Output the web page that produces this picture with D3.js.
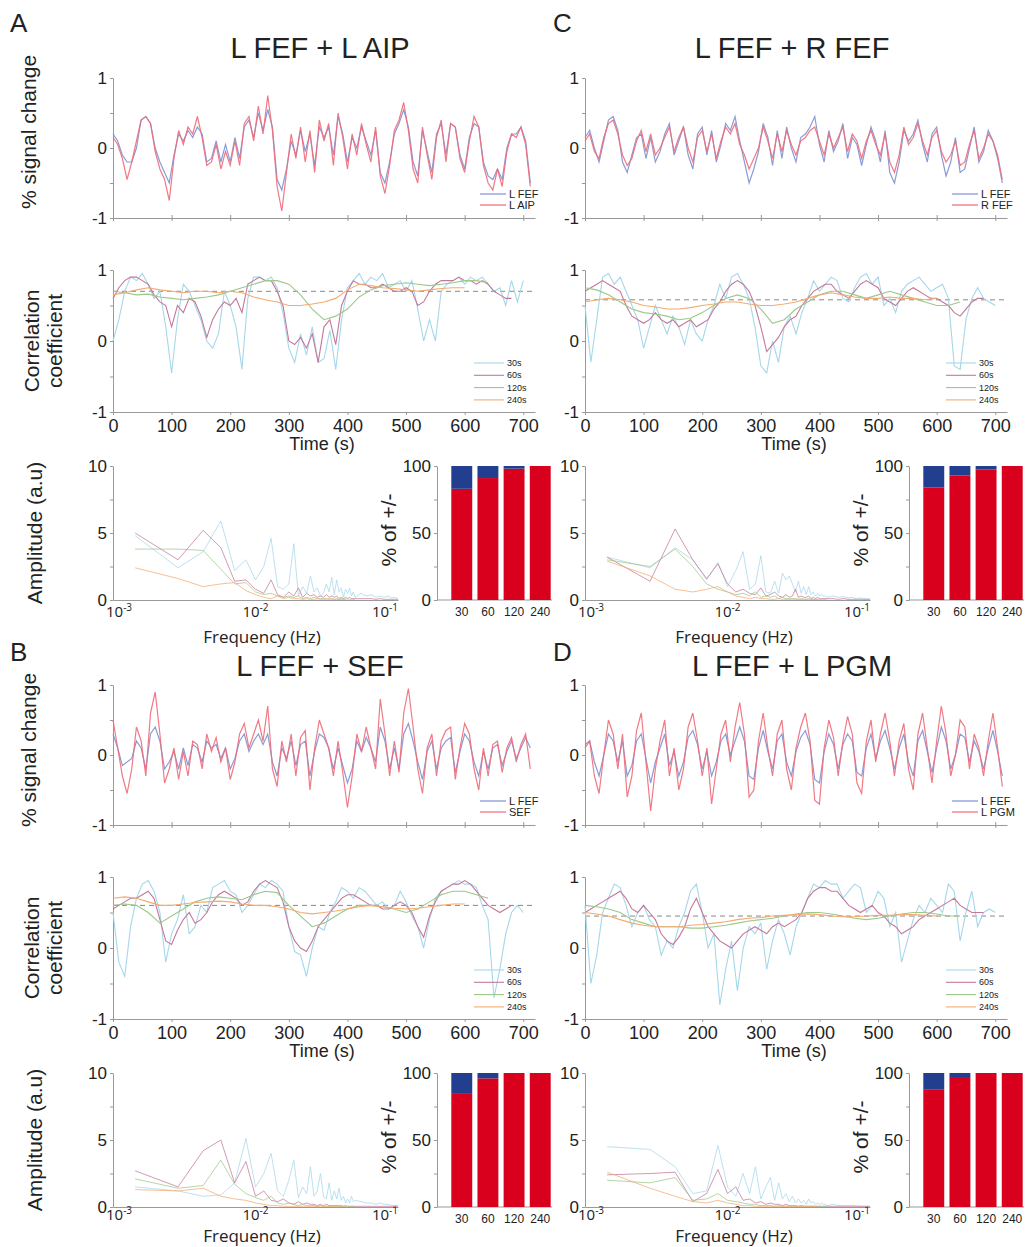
<!DOCTYPE html>
<html>
<head>
<meta charset="utf-8">
<script src="https://cdn.jsdelivr.net/npm/d3@7"></script>
<style>
  body { margin: 0; background: #fff; }
  text { font-family: Arial, "Liberation Sans", sans-serif; fill: #222; }
</style>
</head>
<body>
<script>
// ---------- data ----------
const sigStep = 8;                       // s between signal samples
const corrSteps = [10, 10, 20, 20];      // s between samples of each window series
const windows = ['30s', '60s', '120s', '240s'];
const barCats = ['30', '60', '120', '240'];
const timeTicks = [0, 100, 200, 300, 400, 500, 600, 700];
const freqs = [0.00143, 0.00286, 0.00429, 0.00571, 0.00714, 0.00857, 0.01, 0.01143, 0.01286, 0.01429,
  0.01571, 0.01714, 0.01857, 0.02, 0.02143, 0.02286, 0.02429, 0.02571, 0.02714, 0.02857,
  0.03, 0.03143, 0.03286, 0.03429, 0.03571, 0.03714, 0.03857, 0.04, 0.04143, 0.04286,
  0.04429, 0.04571, 0.04714, 0.04857, 0.05, 0.055, 0.06, 0.065, 0.07, 0.075, 0.08, 0.085, 0.09, 0.095, 0.1];

// A: L FEF + L AIP
const sigA_fef = [.2, .1, -.1, -.2, -.2, .0, .4, .45, .35, .0, -.2, -.35, -.5, -.1, .2, .1, .25, .15, .3, .2,
  -.2, -.15, .1, -.2, .05, -.2, .15, -.15, .3, .4, .15, .5, .25, .55, .3, -.45, -.6, -.3, .1, -.1,
  .25, -.05, .2, -.25, .3, .15, .3, -.1, .45, .2, -.2, .15, .0, .3, .1, -.1, .25, -.35, -.5, -.2,
  .2, .35, .55, .3, -.2, -.4, .25, -.05, -.35, .2, .35, -.1, .35, .3, -.1, -.3, .15, .35, .3, -.2,
  -.4, -.45, -.3, -.45, .0, .2, .2, .3, .1, -.5];
const sigA_aip = [.15, .05, -.15, -.45, -.2, .1, .4, .45, .35, -.05, -.3, -.45, -.75, -.15, .25, .05, .3, .2, .45, .15,
  -.25, -.2, .05, -.3, -.05, -.25, .1, -.25, .35, .45, .1, .6, .2, .75, .25, -.55, -.9, -.35, .2, -.15,
  .3, -.2, .25, -.35, .4, .1, .35, -.25, .5, .15, -.3, .2, -.1, .35, .05, -.2, .3, -.4, -.65, -.25,
  .25, .4, .65, .25, -.3, -.5, .3, -.1, -.45, .15, .4, -.2, .35, .3, -.15, -.35, .1, .45, .3, -.25,
  -.5, -.6, -.3, -.55, -.05, .2, .15, .3, .05, -.55];
const corrA30 = [.0, .3, .7, .9, .85, .95, .8, .6, .7, .2, -.45, .3, .8, .7, .5, .3, .0, -.1, .1, .7,
  .5, .2, -.4, .6, .9, .9, .85, .9, .75, .4, -.1, -.3, .1, -.2, .2, -.3, -.25, .15, -.4, .3,
  .75, .85, .95, .8, .9, .85, .95, .75, .8, .85, .7, .85, .45, .0, .3, .0, .7, .8, .85, .9,
  .8, .9, .85, .9, .8, .7, .75, .5, .85, .55, .85];
const corrA60 = [.6, .75, .85, .9, .9, .85, .8, .65, .55, .5, .2, .5, .4, .6, .55, .35, .05, .3, .45, .55,
  .5, .6, .4, .8, .85, .9, .85, .85, .7, .5, .0, -.05, .05, -.1, .1, -.3, .2, .3, -.05, .5,
  .7, .85, .8, .8, .75, .75, .8, .75, .7, .7, .75, .7, .5, .55, .7, .8, .85, .85, .85, .9,
  .85, .85, .8, .85, .8, .7, .65, .6, .6];
const corrA120 = [.7, .68, .65, .66, .62, .6, .58, .6, .62, .65, .7, .75, .8, .85, .85, .8, .65, .45, .3, .35,
  .45, .62, .72, .78, .8, .82, .8, .78, .8, .82, .85, .85, .82];
const corrA240 = [.65, .68, .72, .75, .72, .7, .68, .7, .7, .68, .7, .68, .62, .58, .55, .5, .5, .52, .55, .6,
  .72, .8, .78, .75, .74, .72, .7, .72, .74, .75, .75];
const specA30 = [4.8, 2.4, 3.6, 5.9, 2.2, 3.0, 1.5, 2.5, 4.6, 1.0, 0.8, 1.2, 4.2, 0.3, 1.0, 0.5, 1.8, 0.6, 0.9, 0.3,
  0.5, 1.2, 0.6, 1.7, 0.4, 1.5, 0.6, 0.9, 0.2, 0.8, 0.5, 0.9, 0.3, 0.6, 0.2, 0.5, 0.3, 0.4, 0.2, 0.3,
  0.2, 0.3, 0.15, 0.2, 0.1];
const specA60 = [5.0, 3.0, 5.2, 3.9, 1.4, 1.5, 0.8, 0.5, 1.5, 0.4, 0.2, 0.6, 0.3, 0.9, 0.2, 0.5, 0.3, 0.4, 0.2, 0.3,
  0.2, 0.4, 0.2, 0.3, 0.2, 0.3, 0.1, 0.2, 0.1, 0.2, 0.1, 0.2, 0.1, 0.1, 0.1, 0.1, 0.1, 0.1, 0.05, 0.1,
  0.05, 0.05, 0.05, 0.05, 0.05];
const specA120 = [3.8, 3.8, 3.7, 2.3, 1.2, 1.3, 0.6, 0.4, 0.5, 0.3, 0.2, 0.3, 0.2, 0.3, 0.1, 0.2, 0.1, 0.2, 0.1, 0.1,
  0.1, 0.1, 0.05, 0.1, 0.05, 0.1, 0.05, 0.1, 0.05, 0.05, 0.1, 0.05, 0.05, 0.05, 0.05];
const specA240 = [2.4, 1.6, 1.0, 1.2, 1.3, 0.7, 0.4, 0.2, 0.1, 0.3, 0.1, 0.2, 0.1, 0.1, 0.05, 0.1, 0.05, 0.05, 0.1, 0.05,
  0.05, 0.05, 0.1, 0.05, 0.05, 0.05, 0.05, 0.05, 0.05, 0.05];
const posA = [83, 91, 98, 100];

// C: L FEF + R FEF
const sigC_fef = [.15, .25, .0, -.2, .1, .4, .45, .25, -.2, -.35, -.1, .15, .2, -.15, .15, -.2, -.05, .2, .35, -.1,
  .1, .3, -.1, -.3, .2, .3, -.1, .25, -.2, .05, .35, .25, .45, .1, -.2, -.5, -.3, -.05, .35, .15,
  -.25, .25, -.15, .3, .0, -.2, .15, .2, .3, .45, .05, -.2, .25, -.05, .1, .35, -.15, .15, .05, -.25,
  .05, .3, .1, -.2, .25, -.35, -.5, -.2, .25, .1, .2, .4, .05, -.2, .2, .3, -.1, -.4, -.2, .15,
  -.35, -.3, .0, .3, -.2, -.05, .25, .1, -.15, -.5];
const sigC_rfef = [.1, .2, -.05, -.15, .15, .35, .4, .2, -.1, -.25, -.15, .1, .25, -.05, .2, -.1, .0, .15, .3, -.05,
  .15, .3, .0, -.2, .15, .25, -.05, .2, -.15, .1, .3, .2, .35, .05, -.1, -.3, -.15, .0, .3, .1,
  -.15, .2, -.05, .25, .05, -.1, .1, .15, .25, .3, .1, -.1, .2, .0, .15, .3, -.05, .2, .1, -.15,
  .1, .25, .05, -.1, .2, -.2, -.35, -.1, .3, .05, .15, .35, .1, -.1, .15, .25, -.05, -.2, -.1, .1,
  -.25, -.2, .05, .25, -.15, .0, .2, .1, -.1, -.45];
const corrC30 = [.5, -.3, .3, .9, .95, .8, .9, .7, .5, .3, -.1, .2, .5, .3, .1, .35, .2, -.05, .3, .1,
  .0, .3, .5, .8, .6, .9, .95, .8, .6, .2, -.35, -.45, .0, -.3, .2, .35, .1, .4, .6, .85,
  .7, .8, .9, .85, .6, .55, .75, .9, .95, .8, .9, .5, .6, .4, .7, .8, .85, .9, .8, .7,
  .75, .8, .6, -.35, -.4, .3, .6, .75, .6, .55, .5];
const corrC60 = [.7, .75, .8, .85, .8, .75, .7, .5, .35, .3, .25, .3, .4, .3, .25, .3, .2, .25, .3, .2,
  .25, .3, .45, .55, .7, .8, .85, .8, .7, .5, .2, -.15, -.05, .05, .2, .3, .35, .5, .6, .7,
  .75, .8, .8, .7, .65, .6, .7, .8, .85, .8, .75, .6, .55, .5, .6, .7, .75, .7, .65, .6,
  .6, .55, .5, .4, .35, .45, .55, .6, .6];
const corrC120 = [.75, .72, .65, .55, .45, .4, .38, .35, .3, .32, .4, .5, .6, .65, .6, .45, .25, .3, .45, .55,
  .65, .7, .7, .65, .6, .65, .7, .65, .6, .55, .5, .5, .55];
const corrC240 = [.55, .58, .6, .58, .55, .5, .48, .45, .45, .47, .5, .52, .55, .55, .52, .5, .5, .52, .55, .6,
  .65, .68, .65, .62, .6, .6, .62, .6, .6, .58, .6];
const specC30 = [3.2, 2.4, 3.9, 3.0, 1.5, 2.8, 1.0, 2.2, 3.6, 0.8, 1.2, 3.3, 0.6, 0.5, 1.4, 0.5, 2.0, 1.5, 1.8, 1.2,
  0.6, 1.4, 0.5, 1.0, 0.4, 1.0, 0.4, 0.6, 0.3, 0.5, 0.3, 0.4, 0.3, 0.3, 0.2, 0.3, 0.2, 0.25, 0.15, 0.2,
  0.1, 0.15, 0.1, 0.1, 0.05];
const specC60 = [3.2, 1.4, 5.3, 3.0, 1.6, 2.7, 1.2, 0.6, 0.8, 0.5, 0.4, 0.9, 0.3, 0.4, 0.6, 0.3, 0.2, 0.4, 0.2, 0.3,
  0.8, 0.2, 0.3, 0.2, 0.2, 0.3, 0.1, 0.2, 0.1, 0.2, 0.1, 0.1, 0.1, 0.1, 0.1, 0.1, 0.05, 0.1, 0.05, 0.05,
  0.05, 0.05, 0.05, 0.05, 0.05];
const specC120 = [3.0, 2.5, 3.8, 2.5, 1.2, 0.8, 0.6, 0.4, 0.5, 0.3, 0.6, 0.2, 0.3, 0.2, 0.3, 0.1, 0.2, 0.1, 0.1, 0.1,
  0.1, 0.05, 0.1, 0.05, 0.05, 0.1, 0.05, 0.05, 0.05, 0.05, 0.05, 0.05, 0.05, 0.05, 0.05];
const specC240 = [2.9, 1.8, 0.8, 0.6, 0.8, 1.0, 0.6, 0.3, 0.2, 0.1, 0.2, 0.1, 0.1, 0.05, 0.05, 0.1, 0.05, 0.05, 0.05, 0.05,
  0.05, 0.05, 0.05, 0.05, 0.05, 0.05, 0.05, 0.05, 0.05, 0.05];
const posC = [84, 93, 97.5, 100];

// B: L FEF + SEF
const sigB_fef = [.3, .1, -.15, -.1, -.05, .2, .1, -.2, .3, .4, .2, -.2, -.1, .05, -.2, .1, -.15, .15, .1, -.1,
  .2, .1, .15, -.05, .1, -.2, -.05, .2, .3, .05, .2, .3, .15, .3, -.1, -.3, .1, -.05, .2, -.15,
  .15, .2, -.3, .05, .3, .25, .1, -.2, .1, -.15, -.4, -.2, .2, .05, .25, .1, -.1, .4, .2, -.2,
  .1, -.2, .3, .45, .2, -.1, -.35, .05, .2, -.2, .1, .2, .25, -.25, .05, .3, .2, -.1, -.3, .05,
  -.2, .1, .15, -.15, .05, .2, -.05, .1, .25, .1];
const sigB_sef = [.5, .1, -.3, -.55, -.2, .4, .2, -.3, .6, .9, .3, -.4, -.2, .1, -.35, .05, -.3, .2, .15, -.2,
  .3, .05, .25, -.1, .1, -.35, -.1, .3, .45, .1, .3, .5, .2, .7, -.2, -.45, .2, -.1, .3, -.3,
  .25, .35, -.5, .1, .5, .3, .1, -.3, .2, -.25, -.75, -.3, .3, .05, .4, .1, -.2, .8, .3, -.3,
  .2, -.25, .6, .95, .4, -.2, -.55, .1, .3, -.3, .2, .35, .4, -.35, .1, .45, .3, -.2, -.5, .1,
  -.3, .15, .2, -.25, .1, .25, -.1, .15, .3, -.2];
const corrB30 = [.5, -.2, -.4, .3, .7, .9, .95, .8, .5, -.2, .2, .4, .75, .2, .3, .6, .5, .85, .9, .95,
  .8, .75, .5, .6, .75, .9, .85, .95, .9, .8, .3, -.05, -.1, -.4, .0, .3, .25, .5, .65, .85,
  .8, .7, .85, .8, .7, .6, .65, .55, .6, .8, .65, .45, .3, .0, .4, .7, .8, .85, .9, .95,
  .9, .9, .85, .6, .4, -.7, -.3, .2, .5, .6, .5];
const corrB60 = [.55, .6, .65, .7, .7, .75, .8, .7, .4, .1, .05, .25, .4, .5, .35, .4, .5, .65, .75, .8,
  .75, .7, .6, .65, .8, .9, .95, .9, .85, .65, .3, .1, .0, -.05, .1, .3, .4, .5, .6, .7,
  .75, .75, .7, .65, .6, .6, .55, .55, .6, .65, .6, .5, .3, .15, .45, .65, .8, .85, .9, .9,
  .95, .9, .8, .7, .6, .55, .5, .55, .6];
const corrB120 = [.6, .62, .6, .5, .35, .45, .55, .65, .7, .72, .7, .68, .75, .8, .78, .6, .45, .3, .35, .45,
  .55, .6, .6, .58, .55, .5, .55, .65, .75, .8, .8, .75, .7];
const corrB240 = [.7, .72, .7, .65, .6, .6, .62, .64, .65, .66, .65, .62, .6, .6, .58, .55, .5, .48, .5, .52,
  .55, .58, .6, .58, .56, .55, .56, .58, .6, .62, .62];
const specB30 = [1.5, 1.2, 0.8, 0.9, 1.8, 5.1, 1.5, 2.5, 4.0, 1.2, 0.8, 2.0, 3.5, 0.7, 1.5, 1.0, 3.0, 0.8, 1.2, 2.5,
  0.8, 0.6, 1.8, 0.5, 1.2, 0.6, 1.4, 0.5, 0.8, 0.3, 0.6, 0.3, 0.8, 0.4, 0.5, 0.4, 0.3, 0.3, 0.2, 0.3,
  0.2, 0.2, 0.1, 0.1, 0.1];
const specB60 = [2.7, 1.5, 4.2, 5.0, 1.8, 3.4, 0.8, 1.2, 0.5, 0.4, 0.6, 0.3, 0.2, 0.4, 0.2, 0.3, 0.2, 0.2, 0.1, 0.2,
  0.1, 0.2, 0.1, 0.1, 0.1, 0.1, 0.1, 0.1, 0.05, 0.1, 0.05, 0.05, 0.05, 0.05, 0.05, 0.05, 0.05, 0.05, 0.05, 0.05,
  0.05, 0.05, 0.05, 0.05, 0.05];
const specB120 = [2.1, 1.4, 1.6, 3.5, 1.7, 1.0, 0.7, 0.5, 0.8, 0.3, 0.2, 0.3, 0.2, 0.1, 0.2, 0.1, 0.1, 0.1, 0.05, 0.1,
  0.05, 0.05, 0.05, 0.05, 0.05, 0.05, 0.05, 0.05, 0.05, 0.05, 0.05, 0.05, 0.05, 0.05, 0.05];
const specB240 = [1.3, 1.2, 1.4, 0.8, 0.6, 0.5, 0.3, 0.2, 0.1, 0.1, 0.05, 0.05, 0.05, 0.05, 0.05, 0.05, 0.05, 0.05, 0.05, 0.05,
  0.05, 0.05, 0.05, 0.05, 0.05, 0.05, 0.05, 0.05, 0.05, 0.05];
const posB = [85, 96, 100, 100];

// D: L FEF + L PGM
const sigD_fef = [.15, .2, -.1, -.3, .0, .3, .2, -.1, .2, -.3, -.15, .2, .3, -.05, -.4, -.1, .1, .3, -.15, .05,
  -.3, -.1, .25, .35, .15, -.2, .05, -.3, -.1, .2, .3, .0, .2, .4, .2, -.3, -.35, .1, .35, .05,
  -.2, .2, .3, -.1, -.3, .05, .25, .35, .15, -.35, -.4, .05, .3, .15, -.2, .15, .3, .2, -.25, -.3,
  .1, .3, -.05, .2, .35, .1, -.2, .1, .3, -.1, -.3, .2, .35, .05, -.25, .1, .4, .2, -.2, .0,
  .3, .25, -.1, .2, .05, -.2, .1, .35, .05, -.3];
const sigD_pgm = [.1, .2, -.3, -.55, .0, .5, .3, -.2, .3, -.6, -.3, .35, .6, -.1, -.8, -.2, .2, .5, -.3, .1,
  -.5, -.2, .4, .6, .2, -.3, .1, -.7, -.2, .3, .5, -.1, .4, .75, .3, -.6, -.5, .2, .6, .1,
  -.3, .3, .5, -.2, -.5, .1, .4, .6, .2, -.65, -.7, .1, .5, .25, -.3, .2, .55, .3, -.4, -.55,
  .2, .5, -.1, .3, .6, .2, -.3, .2, .45, -.2, -.5, .3, .6, .1, -.4, .2, .7, .3, -.3, .0,
  .5, .4, -.2, .3, .1, -.3, .2, .6, .1, -.45];
const corrD30 = [.6, -.5, -.1, .5, .7, .9, .85, .6, .3, .5, .6, .4, .3, -.1, .1, .0, .3, .5, .8, .9,
  .5, .0, .2, -.8, -.3, .1, -.6, .0, .3, .2, .35, -.3, .1, .4, .2, -.1, .3, .5, .7, .9,
  .85, .95, .9, .9, .7, .8, .9, .85, .5, .6, .8, .7, .3, .5, -.2, .1, .4, .6, .5, .7,
  .6, .5, .9, .8, .1, .5, .8, .3, .5, .55, .5];
const corrD60 = [.5, .55, .6, .65, .7, .75, .8, .7, .55, .5, .6, .5, .4, .2, .1, .05, .15, .3, .55, .7,
  .5, .3, .2, .1, .05, .0, .1, .2, .25, .3, .25, .2, .3, .35, .3, .35, .4, .5, .7, .8,
  .85, .85, .8, .8, .7, .6, .55, .5, .55, .6, .5, .45, .35, .3, .2, .25, .3, .4, .45, .5,
  .55, .6, .65, .7, .6, .55, .5, .5, .5];
const corrD120 = [.6, .58, .55, .5, .4, .35, .3, .3, .3, .28, .28, .3, .32, .35, .38, .4, .42, .45, .48, .5,
  .5, .48, .45, .42, .4, .42, .45, .48, .5, .5, .48, .45, .45];
const corrD240 = [.5, .48, .45, .4, .35, .32, .3, .3, .3, .32, .33, .35, .37, .4, .42, .43, .45, .46, .47, .48,
  .47, .45, .44, .44, .45, .46, .46, .47, .47, .46, .45];
const specD30 = [4.5, 4.3, 3.0, 1.0, 1.2, 4.6, 1.5, 0.8, 2.5, 1.0, 3.0, 0.6, 1.5, 2.2, 0.5, 1.8, 0.6, 1.0, 0.4, 0.8,
  0.3, 0.6, 0.3, 0.5, 0.2, 0.6, 0.3, 0.4, 0.2, 0.3, 0.2, 0.3, 0.2, 0.2, 0.1, 0.2, 0.1, 0.1, 0.1, 0.1,
  0.1, 0.05, 0.05, 0.05, 0.05];
const specD60 = [2.4, 2.5, 2.6, 0.4, 1.0, 2.8, 1.0, 1.5, 0.5, 0.6, 0.3, 0.4, 0.2, 0.3, 0.2, 0.2, 0.1, 0.2, 0.1, 0.1,
  0.1, 0.05, 0.1, 0.05, 0.05, 0.05, 0.05, 0.05, 0.05, 0.05, 0.05, 0.05, 0.05, 0.05, 0.05, 0.05, 0.05, 0.05, 0.05, 0.05,
  0.05, 0.05, 0.05, 0.05, 0.05];
const specD120 = [2.0, 1.8, 2.2, 0.5, 0.6, 1.0, 0.5, 0.4, 0.3, 0.2, 0.2, 0.1, 0.1, 0.1, 0.05, 0.1, 0.05, 0.05, 0.05, 0.05,
  0.05, 0.05, 0.05, 0.05, 0.05, 0.05, 0.05, 0.05, 0.05, 0.05, 0.05, 0.05, 0.05, 0.05, 0.05];
const specD240 = [2.6, 1.4, 0.8, 0.4, 0.3, 0.5, 0.3, 0.2, 0.1, 0.1, 0.05, 0.05, 0.05, 0.05, 0.05, 0.05, 0.05, 0.05, 0.05, 0.05,
  0.05, 0.05, 0.05, 0.05, 0.05, 0.05, 0.05, 0.05, 0.05, 0.05];
const posD = [87.5, 97, 100, 100];

// ---------- setup ----------
const sigColors = ['#7f90d2', '#ef6a78'];
const winColors = ['#a5d7ea', '#c4789a', '#9cc88a', '#f4aa70'];
const redBar = '#d8001d', blueBar = '#213f8e';
const axisGrey = '#999';
const FREQ_FONT = '"Open Sans", "DejaVu Sans", sans-serif';

const svg = d3.select('body').append('svg')
  .attr('width', 1029)
  .attr('height', 1247);

// scales in panel-local coordinates (panel A); other panels are translated copies
const x = d3.scaleLinear().domain([0, 720]).range([113, 535]);
const ySig = d3.scaleLinear().domain([-1, 1]).range([218, 78]);
const yCor = d3.scaleLinear().domain([-1, 1]).range([412, 270]);
const xF = d3.scaleLog().domain([1e-3, 1e-1]).range([113, 398]);
const yAmp = d3.scaleLinear().domain([0, 10]).range([600, 466]);
const xBar = d3.scaleBand().domain(barCats).range([450, 552]).paddingInner(0.2).paddingOuter(0.05);
const yBar = d3.scaleLinear().domain([0, 100]).range([600, 466]);

function styleAxis(sel, size) {
  sel.attr('font-family', 'Arial, "Liberation Sans", sans-serif').attr('font-size', size);
  sel.select('.domain').attr('stroke', axisGrey);
  sel.selectAll('.tick line').attr('stroke', axisGrey);
  sel.selectAll('.tick text').attr('fill', '#222');
}

function vLabel(g, cx, cy, txt, size) {
  g.append('text')
    .attr('transform', `translate(${cx},${cy}) rotate(-90)`)
    .attr('text-anchor', 'middle')
    .style('font-size', size + 'px')
    .text(txt);
}

const intLabel = d => Number.isInteger(d) ? String(d) : '';

function drawPanel(p) {
  const g = svg.append('g').attr('transform', `translate(${p.dx},${p.dy})`);

  // title
  g.append('text')
    .attr('x', 320).attr('y', p.titleY)
    .attr('text-anchor', 'middle')
    .style('font-size', '29px')
    .text(p.title);

  // --- signal traces ---
  g.append('g').attr('transform', 'translate(113,0)')
    .call(d3.axisLeft(ySig).tickValues([-1, -0.5, 0, 0.5, 1]).tickFormat(intLabel).tickSize(3).tickSizeOuter(0))
    .call(s => styleAxis(s, 17));
  const sx = g.append('g').attr('transform', 'translate(0,218)')
    .call(d3.axisBottom(x).tickValues(timeTicks).tickFormat('').tickSize(3).tickSizeOuter(0))
    .call(s => styleAxis(s, 17));
  sx.selectAll('.tick line').attr('y1', -3);

  const sigLine = d3.line().x((d, i) => x(i * sigStep)).y(d => ySig(d));
  p.sig.forEach((s, k) => {
    g.append('path').datum(s)
      .attr('d', sigLine)
      .attr('fill', 'none')
      .attr('stroke', sigColors[k])
      .attr('stroke-width', 1.2)
      .attr('stroke-opacity', 0.9);
  });
  p.names.forEach((n, k) => {
    const ly = 194 + k * 11;
    g.append('line').attr('x1', 480).attr('x2', 506).attr('y1', ly).attr('y2', ly)
      .attr('stroke', sigColors[k]).attr('stroke-width', 1.2);
    g.append('text').attr('x', 509).attr('y', ly + 4).style('font-size', '11px').text(n);
  });

  // --- sliding-window correlation ---
  g.append('g').attr('transform', 'translate(113,0)')
    .call(d3.axisLeft(yCor).tickValues([-1, -0.5, 0, 0.5, 1]).tickFormat(intLabel).tickSize(3).tickSizeOuter(0))
    .call(s => styleAxis(s, 17));
  g.append('g').attr('transform', 'translate(0,412)')
    .call(d3.axisBottom(x).tickValues(timeTicks).tickSize(3).tickPadding(4).tickSizeOuter(0))
    .call(s => styleAxis(s, 18));
  g.append('text').attr('x', 322).attr('y', 450).attr('text-anchor', 'middle')
    .style('font-size', '18px').text('Time (s)');

  g.append('line')
    .attr('x1', x(0)).attr('x2', x(720))
    .attr('y1', yCor(p.dash)).attr('y2', yCor(p.dash))
    .attr('stroke', '#888').attr('stroke-dasharray', '5,4').attr('stroke-width', 1);

  p.corr.forEach((s, k) => {
    const line = d3.line().x((d, i) => x(i * corrSteps[k])).y(d => yCor(d));
    g.append('path').datum(s)
      .attr('d', line)
      .attr('fill', 'none')
      .attr('stroke', winColors[k])
      .attr('stroke-width', 1.1);
  });
  windows.forEach((w, k) => {
    const ly = 363 + k * 12.3;
    g.append('line').attr('x1', 474).attr('x2', 504).attr('y1', ly).attr('y2', ly)
      .attr('stroke', winColors[k]).attr('stroke-width', 1.1);
    g.append('text').attr('x', 507).attr('y', ly + 3).style('font-size', '9px').text(w);
  });

  // --- amplitude spectra ---
  g.append('g').attr('transform', 'translate(113,0)')
    .call(d3.axisLeft(yAmp).tickValues([0, 2.5, 5, 7.5, 10]).tickFormat(intLabel).tickSize(3).tickSizeOuter(0))
    .call(s => styleAxis(s, 17));
  g.append('g').attr('transform', 'translate(0,600)')
    .call(d3.axisBottom(xF).tickValues([]).tickSizeOuter(0))
    .call(s => styleAxis(s, 15));
  [[1e-3, '-3', 'start', -7], [1e-2, '-2', 'middle', 0], [1e-1, '-1', 'end', 0]].forEach(([v, e, anchor, off]) => {
    const t = g.append('text')
      .attr('x', xF(v) + off).attr('y', p.tickY)
      .attr('text-anchor', anchor)
      .style('font-family', FREQ_FONT)
      .style('font-size', '15px');
    t.append('tspan').text('10');
    t.append('tspan').attr('dy', -6).style('font-size', '10px').text(e);
  });
  g.append('text').attr('x', 262).attr('y', p.freqY).attr('text-anchor', 'middle')
    .style('font-family', FREQ_FONT).style('font-size', '17px').text('Frequency (Hz)');

  p.spec.forEach((s, k) => {
    const line = d3.line().x((d, i) => xF(freqs[i])).y(d => yAmp(d));
    g.append('path').datum(s)
      .attr('d', line)
      .attr('fill', 'none')
      .attr('stroke', winColors[k])
      .attr('stroke-width', 1)
      .attr('stroke-opacity', 0.75);
  });

  // --- % positive / negative bars ---
  g.append('g').attr('transform', 'translate(437,0)')
    .call(d3.axisLeft(yBar).tickValues([0, 25, 50, 75, 100]).tickFormat(d => d % 50 === 0 ? d : '').tickSize(3).tickSizeOuter(0))
    .call(s => styleAxis(s, 17));
  g.append('line').attr('x1', 437).attr('x2', xBar.range()[1]).attr('y1', 600).attr('y2', 600)
    .attr('stroke', axisGrey);
  const bx = g.append('g').attr('transform', 'translate(0,600)')
    .call(d3.axisBottom(xBar).tickSize(0).tickPadding(7))
    .call(s => styleAxis(s, 12));
  bx.select('.domain').remove();

  g.selectAll('.pos').data(p.pos).enter().append('rect')
    .attr('x', (d, i) => xBar(barCats[i]))
    .attr('y', d => yBar(d))
    .attr('width', xBar.bandwidth())
    .attr('height', d => yBar(0) - yBar(d))
    .attr('fill', redBar);
  g.selectAll('.neg').data(p.pos).enter().append('rect')
    .attr('x', (d, i) => xBar(barCats[i]))
    .attr('y', yBar(100))
    .attr('width', xBar.bandwidth())
    .attr('height', d => yBar(d) - yBar(100))
    .attr('fill', blueBar);

  vLabel(g, 396, 530, '% of +/-', 21);

  if (p.left) {
    vLabel(g, 36, p.sigLabelY, '% signal change', 21);
    vLabel(g, 39, 341, 'Correlation', 21);
    vLabel(g, 62, 341, 'coefficient', 21);
    vLabel(g, 42, 533, 'Amplitude (a.u)', 21);
  }
}

const panels = [
  { dx: 0, dy: 0, title: 'L FEF + L AIP', names: ['L FEF', 'L AIP'], left: true, titleY: 58, sigLabelY: 132, tickY: 617, freqY: 643, dash: 0.7,
    sig: [sigA_fef, sigA_aip], corr: [corrA30, corrA60, corrA120, corrA240], spec: [specA30, specA60, specA120, specA240], pos: posA },
  { dx: 472, dy: 0, title: 'L FEF + R FEF', names: ['L FEF', 'R FEF'], left: false, titleY: 58, sigLabelY: 132, tickY: 617, freqY: 643, dash: 0.58,
    sig: [sigC_fef, sigC_rfef], corr: [corrC30, corrC60, corrC120, corrC240], spec: [specC30, specC60, specC120, specC240], pos: posC },
  { dx: 0, dy: 607, title: 'L FEF + SEF', names: ['L FEF', 'SEF'], left: true, titleY: 69, sigLabelY: 143, tickY: 613, freqY: 635, dash: 0.6,
    sig: [sigB_fef, sigB_sef], corr: [corrB30, corrB60, corrB120, corrB240], spec: [specB30, specB60, specB120, specB240], pos: posB },
  { dx: 472, dy: 607, title: 'L FEF + L PGM', names: ['L FEF', 'L PGM'], left: false, titleY: 69, sigLabelY: 143, tickY: 613, freqY: 635, dash: 0.45,
    sig: [sigD_fef, sigD_pgm], corr: [corrD30, corrD60, corrD120, corrD240], spec: [specD30, specD60, specD120, specD240], pos: posD }
];

panels.forEach(drawPanel);

// panel letters
[['A', 10, 32], ['C', 553, 32], ['B', 10, 661], ['D', 553, 661]].forEach(([l, lx, ly]) => {
  svg.append('text').attr('x', lx).attr('y', ly).style('font-size', '26px').text(l);
});
</script>
</body>
</html>
